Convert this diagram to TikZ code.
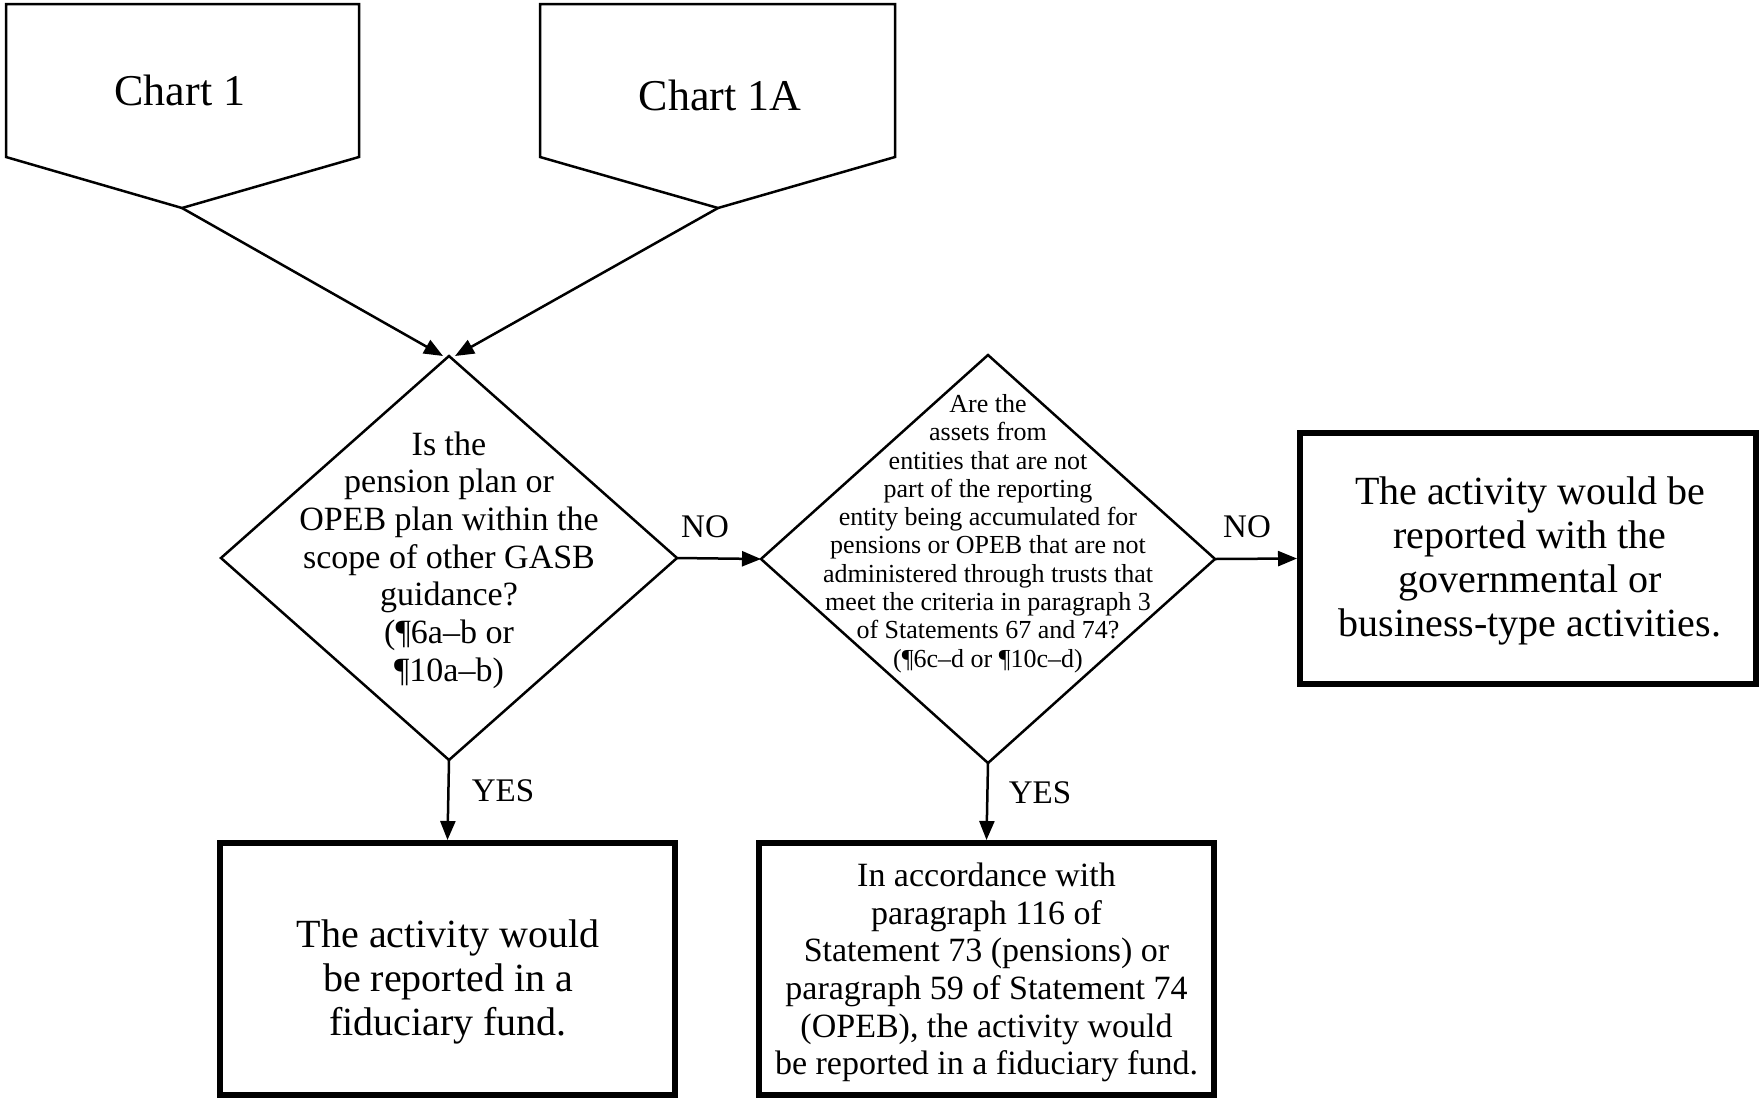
\documentclass[tikz,border=0pt]{standalone}
\usepackage{fontspec}
\setmainfont{Liberation Serif}
\usetikzlibrary{shapes.geometric,arrows.meta}
\begin{document}
\begin{tikzpicture}[x=1pt,y=-1pt,
  thinline/.style={line width=2.5pt,line join=miter},
  arr/.style={line width=2.5pt,-{Triangle[length=19pt,width=15pt]}},
  dia/.style={draw,diamond,line width=2.5pt,inner sep=0pt,outer sep=0pt},
  outbox/.style={draw,rectangle,line width=6pt,inner sep=0pt},
  txt/.style={align=center,inner sep=0pt},
  bigtxt/.style={txt,font=\fontsize{40}{44}\selectfont},
  midtxt/.style={txt,font=\fontsize{34}{37.7}\selectfont},
  smalltxt/.style={txt,font=\fontsize{26}{28.3}\selectfont},
  lbl/.style={inner sep=0pt,font=\fontsize{33}{36}\selectfont},
  charttxt/.style={inner sep=0pt,font=\fontsize{44}{48}\selectfont}
]
\useasboundingbox (0,0) rectangle (1761,1101);

% off-page connectors
\coordinate (c1tip) at (182,208);
\coordinate (c2tip) at (718,208);
\draw[thinline] (6,4) -- (359,4) -- (359,157) -- (c1tip) -- (6,157) -- cycle;
\draw[thinline] (540,4) -- (895,4) -- (895,157) -- (c2tip) -- (540,157) -- cycle;
\node[charttxt] (c1) at (180,90) {Chart 1};
\node[charttxt] (c2) at (720,95) {Chart 1A};

% decisions
\node[dia,minimum width=456pt,minimum height=404pt] (d1) at (449,558) {};
\node[dia,minimum width=454pt,minimum height=408pt] (d2) at (988,559) {};
\node[midtxt] (d1t) at (449,560) {Is the\\pension plan or\\OPEB plan within the\\scope of other GASB\\guidance?\\(¶6a–b or\\¶10a–b)};
\node[smalltxt] (d2t) at (988,533.5) {Are the\\assets from\\entities that are not\\part of the reporting\\entity being accumulated for\\pensions or OPEB that are not\\administered through trusts that\\meet the criteria in paragraph 3\\of Statements 67 and 74?\\(¶6c–d or ¶10c–d)};

% outcome boxes
\node[outbox,minimum width=456pt,minimum height=251pt] (b3) at (1528,558.5) {};
\node[bigtxt] (b3t) at (1530,560.5) {The activity would be\\reported with the\\governmental or\\business-type activities.};
\node[outbox,minimum width=455pt,minimum height=252pt] (b1) at (447.5,969) {};
\node[bigtxt] (b1t) at (448,981.5) {The activity would\\be reported in a\\fiduciary fund.};
\node[outbox,minimum width=455pt,minimum height=252pt] (b2) at (986.5,969) {};
\node[midtxt] (b2t) at (986.5,972.5) {In accordance with\\paragraph 116 of\\Statement 73 (pensions) or\\paragraph 59 of Statement 74\\(OPEB), the activity would\\be reported in a fiduciary fund.};

% connectors
\draw[arr] (c1tip) -- ([xshift=-6pt]d1.north);
\draw[arr] (c2tip) -- ([xshift=6pt]d1.north);
\draw[arr] (d1.east) -- (d2.west);
\draw[arr] (d2.east) -- (b3.west);
\draw[arr] (d1.south) -- (b1.north);
\draw[arr] (d2.south) -- (b2.north);

% labels
\node[lbl] (no1) at (705,527) {NO};
\node[lbl] (no2) at (1247,527) {NO};
\node[lbl] (yes1) at (503,791) {YES};
\node[lbl] (yes2) at (1040,793) {YES};
\end{tikzpicture}
\end{document}
